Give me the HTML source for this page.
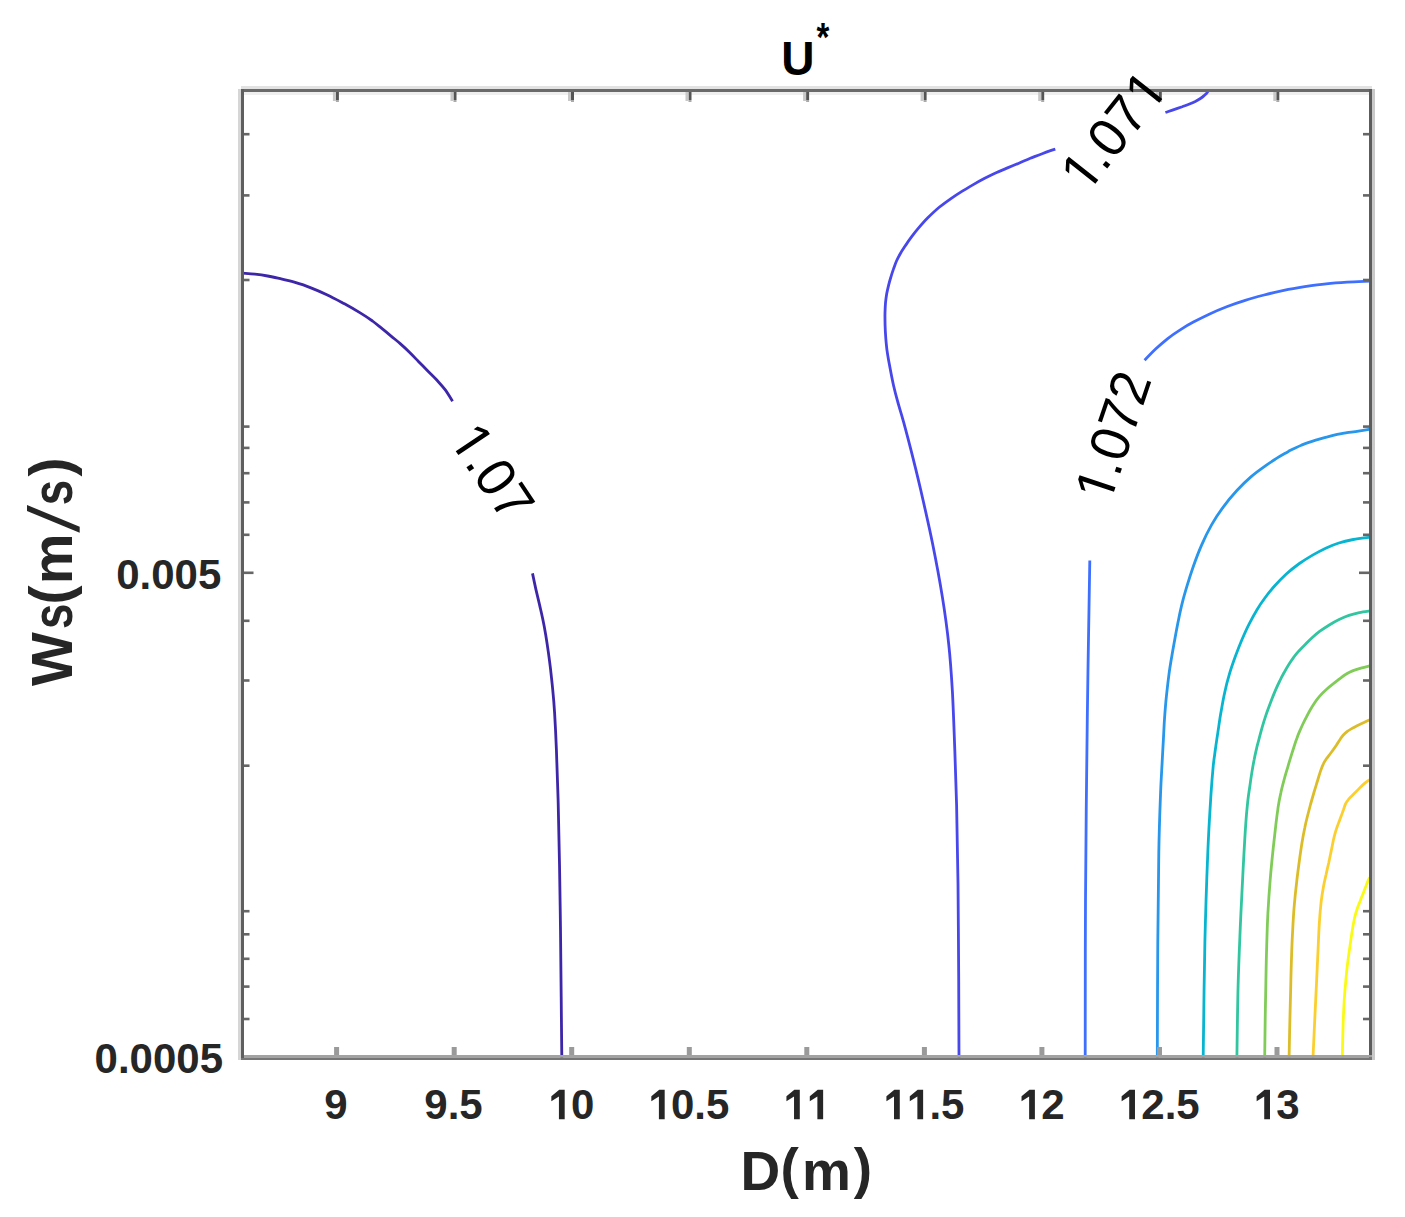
<!DOCTYPE html>
<html><head><meta charset="utf-8"><style>
html,body{margin:0;padding:0;background:#fff;overflow:hidden;}
svg{display:block;}
text{font-family:"Liberation Sans",sans-serif;}
</style></head><body>
<svg width="1405" height="1217" viewBox="0 0 1405 1217">
<rect width="1405" height="1217" fill="#fff"/>

<rect x="238" y="89" width="3" height="971" fill="#d6d6d6"/>
<rect x="241" y="86" width="1131" height="3" fill="#e2e2e2"/>
<rect x="244" y="92" width="1125" height="3" fill="#efefef"/>
<rect x="1372" y="89" width="3" height="971" fill="#c9c9c9"/>
<g fill="none" stroke-width="2.8" stroke-linecap="butt" stroke-linejoin="round">
<path d="M242.5,273.1 C244.6,273.3 250.7,273.7 254.9,274.2 C259.1,274.7 263.4,275.3 267.6,276.0 C271.8,276.8 276.0,277.6 280.4,278.7 C284.8,279.7 289.3,280.7 294.3,282.2 C299.3,283.7 304.8,285.4 310.3,287.6 C315.8,289.7 321.7,292.3 327.4,295.0 C333.1,297.7 339.0,300.9 344.5,303.8 C350.0,306.8 355.5,310.0 360.2,312.9 C364.9,315.7 368.8,318.4 372.5,321.0 C376.1,323.7 379.0,326.2 382.1,328.7 C385.2,331.2 388.1,333.6 391.1,336.1 C394.1,338.6 397.2,341.0 400.2,343.6 C403.2,346.2 406.2,349.0 409.2,352.0 C412.2,354.9 415.2,358.1 418.2,361.2 C421.2,364.3 424.3,367.4 427.3,370.5 C430.3,373.5 433.4,376.3 436.3,379.5 C439.2,382.7 442.2,385.8 444.9,389.4 C447.6,393.0 451.3,399.2 452.6,401.2" stroke="#3e26a8"/>
<path d="M532.5,573.4 C533.1,576.1 534.8,584.3 535.9,589.4 C537.1,594.5 538.3,599.2 539.4,604.1 C540.5,609.0 541.7,613.7 542.7,618.8 C543.8,623.9 544.8,629.3 545.7,634.8 C546.6,640.3 547.5,646.1 548.3,651.9 C549.1,657.7 549.9,663.5 550.6,669.7 C551.3,676.0 552.0,682.1 552.7,689.3 C553.4,696.4 554.0,702.7 554.6,712.8 C555.2,722.8 555.8,734.4 556.4,749.5 C557.0,764.6 557.7,784.1 558.2,803.2 C558.7,822.4 559.1,843.0 559.5,864.1 C559.9,885.2 560.2,907.9 560.5,930.0 C560.7,952.1 561.0,975.6 561.2,996.9 C561.4,1018.1 561.7,1047.4 561.8,1057.5" stroke="#3e26a8"/>
<path d="M959.0,1057.5 C958.9,1044.2 958.8,1006.6 958.7,977.5 C958.5,948.4 958.3,911.9 958.0,883.1 C957.6,854.4 957.1,828.1 956.6,805.0 C956.0,781.9 955.3,763.6 954.6,744.6 C953.9,725.7 953.3,707.9 952.4,691.3 C951.4,674.6 950.5,660.6 948.8,644.9 C947.2,629.2 945.1,614.0 942.4,597.1 C939.7,580.3 936.2,561.5 932.6,543.7 C929.0,525.9 924.5,506.4 920.8,490.3 C917.1,474.3 913.3,459.1 910.3,447.4 C907.3,435.7 905.1,427.6 903.0,419.8 C900.8,412.1 899.0,406.6 897.5,400.9 C895.9,395.2 894.7,390.4 893.6,385.7 C892.5,381.0 891.7,376.8 890.9,372.6 C890.1,368.3 889.3,364.1 888.6,360.2 C887.9,356.4 887.4,353.2 886.9,349.6 C886.5,345.9 886.1,342.5 885.8,338.5 C885.5,334.5 885.2,329.8 885.1,325.5 C885.0,321.2 884.9,316.8 885.0,313.0 C885.1,309.2 885.2,306.0 885.5,302.8 C885.8,299.5 886.2,296.7 886.7,293.7 C887.3,290.7 888.0,287.8 888.7,284.9 C889.4,281.9 890.3,279.0 891.1,276.3 C891.9,273.6 892.8,271.0 893.7,268.4 C894.6,265.9 895.5,263.3 896.6,260.8 C897.7,258.4 899.0,255.9 900.4,253.5 C901.8,251.0 903.4,248.7 905.1,246.1 C906.8,243.6 908.4,241.1 910.6,238.2 C912.7,235.4 914.9,232.3 917.8,228.9 C920.7,225.5 924.2,221.4 927.8,217.8 C931.4,214.3 935.4,210.5 939.2,207.3 C943.0,204.2 946.8,201.5 950.6,198.8 C954.4,196.2 958.1,193.8 961.9,191.4 C965.7,189.0 969.5,186.8 973.3,184.6 C977.1,182.4 980.9,180.3 984.7,178.3 C988.5,176.4 992.3,174.5 996.1,172.8 C999.9,171.0 1003.7,169.5 1007.5,167.9 C1011.3,166.3 1015.1,164.8 1018.9,163.2 C1022.7,161.6 1026.4,159.9 1030.3,158.3 C1034.2,156.8 1038.1,155.2 1042.2,153.7 C1046.4,152.2 1053.1,149.9 1055.3,149.2" stroke="#4747eb"/>
<path d="M1165.4,112.5 C1166.8,112.0 1171.1,110.6 1173.9,109.6 C1176.7,108.7 1179.6,107.7 1182.2,106.8 C1184.8,105.8 1187.3,104.9 1189.5,104.0 C1191.7,103.1 1193.5,102.3 1195.3,101.4 C1197.0,100.5 1198.6,99.6 1200.0,98.7 C1201.4,97.8 1202.7,96.9 1203.8,95.9 C1204.9,95.0 1205.8,94.1 1206.7,93.2 C1207.5,92.2 1208.4,90.9 1208.7,90.5" stroke="#4747eb"/>
<path d="M1144.6,360.3 C1146.4,358.4 1151.8,352.7 1155.6,349.1 C1159.4,345.5 1163.4,342.0 1167.4,338.8 C1171.5,335.6 1175.4,332.9 1179.8,330.1 C1184.1,327.3 1188.4,324.7 1193.4,322.1 C1198.4,319.4 1204.0,316.5 1209.7,313.9 C1215.3,311.3 1221.4,308.8 1227.3,306.5 C1233.3,304.3 1239.1,302.3 1245.2,300.4 C1251.3,298.4 1257.7,296.7 1264.1,295.0 C1270.5,293.3 1277.1,291.7 1283.8,290.3 C1290.6,288.9 1297.7,287.7 1304.7,286.6 C1311.8,285.6 1319.0,284.6 1326.1,283.9 C1333.2,283.1 1339.7,282.6 1347.1,282.1 C1354.5,281.6 1366.6,281.3 1370.5,281.1" stroke="#3e6fff"/>
<path d="M1089.8,560.5 C1089.4,586.7 1088.0,661.3 1087.3,717.9 C1086.6,774.5 1085.8,843.4 1085.5,900.0 C1085.2,956.6 1085.2,1031.2 1085.2,1057.5" stroke="#3e6fff"/>
<path d="M1370.5,429.2 C1368.5,429.5 1362.4,430.5 1358.5,431.1 C1354.5,431.7 1350.5,432.2 1347.0,432.7 C1343.5,433.3 1340.4,433.8 1337.2,434.4 C1333.9,435.1 1330.7,436.0 1327.5,436.9 C1324.2,437.7 1320.8,438.7 1317.7,439.6 C1314.5,440.6 1311.5,441.5 1308.8,442.4 C1306.1,443.3 1303.6,444.3 1301.3,445.2 C1299.1,446.1 1297.2,447.0 1295.3,447.9 C1293.4,448.8 1291.6,449.7 1289.9,450.6 C1288.1,451.6 1286.8,452.3 1284.7,453.5 C1282.6,454.7 1280.5,455.9 1277.3,457.9 C1274.1,460.0 1269.8,462.6 1265.4,465.8 C1261.0,468.9 1255.9,472.5 1251.2,476.6 C1246.4,480.7 1241.6,485.4 1236.9,490.5 C1232.3,495.5 1227.6,501.1 1223.4,506.8 C1219.2,512.5 1215.3,518.3 1211.7,524.6 C1208.1,530.9 1204.7,537.9 1201.7,544.9 C1198.6,551.9 1195.7,559.7 1193.3,566.5 C1190.9,573.3 1188.9,579.7 1187.1,585.7 C1185.3,591.7 1183.8,596.7 1182.4,602.4 C1180.9,608.1 1179.7,613.9 1178.5,619.9 C1177.2,625.8 1176.1,632.3 1175.0,638.2 C1173.9,644.2 1172.9,649.7 1171.9,655.7 C1170.9,661.6 1169.9,667.3 1169.0,674.1 C1168.1,680.9 1167.2,688.9 1166.4,696.3 C1165.6,703.8 1165.0,711.8 1164.5,719.0 C1164.0,726.1 1163.8,732.7 1163.4,739.4 C1163.0,746.1 1162.8,750.6 1162.3,759.4 C1161.9,768.2 1161.2,776.8 1160.6,792.3 C1160.0,807.8 1159.2,827.6 1158.8,852.5 C1158.3,877.4 1158.0,907.7 1157.8,941.9 C1157.5,976.0 1157.4,1038.2 1157.3,1057.5" stroke="#2796eb"/>
<path d="M1370.5,537.2 C1367.6,537.6 1358.6,538.6 1353.3,539.5 C1348.1,540.5 1343.5,541.5 1338.9,543.0 C1334.3,544.4 1330.1,546.2 1325.7,548.2 C1321.3,550.3 1317.0,552.6 1312.6,555.1 C1308.2,557.7 1303.8,560.4 1299.4,563.5 C1295.0,566.7 1290.5,570.2 1286.3,574.0 C1282.1,577.9 1277.7,582.5 1274.1,586.5 C1270.5,590.6 1267.5,594.4 1264.7,598.3 C1261.8,602.2 1259.6,605.4 1257.0,609.7 C1254.5,613.9 1251.8,618.8 1249.2,623.8 C1246.7,628.7 1244.3,634.1 1242.0,639.5 C1239.7,645.0 1237.5,650.6 1235.4,656.3 C1233.3,662.1 1231.2,667.9 1229.4,674.1 C1227.5,680.3 1225.9,686.7 1224.5,693.5 C1223.0,700.2 1221.8,707.7 1220.6,714.3 C1219.5,720.9 1218.7,727.0 1217.8,732.9 C1216.9,738.7 1216.1,743.9 1215.4,749.3 C1214.7,754.7 1214.1,757.7 1213.3,765.2 C1212.6,772.6 1212.0,779.4 1211.0,793.9 C1210.1,808.5 1208.8,827.8 1207.8,852.5 C1206.8,877.2 1205.7,907.7 1204.9,941.9 C1204.1,976.0 1203.5,1038.2 1203.2,1057.5" stroke="#08b5d0"/>
<path d="M1370.5,610.8 C1368.6,611.1 1362.9,611.9 1359.3,612.6 C1355.7,613.4 1352.3,614.2 1349.0,615.3 C1345.6,616.4 1342.4,617.9 1339.1,619.5 C1335.8,621.1 1332.5,623.0 1329.3,625.0 C1326.1,627.0 1322.8,629.1 1319.9,631.2 C1317.0,633.4 1314.3,635.7 1311.8,638.0 C1309.4,640.2 1307.2,642.5 1305.0,644.7 C1302.8,646.9 1300.7,649.0 1298.7,651.2 C1296.8,653.4 1295.0,655.5 1293.3,657.8 C1291.6,660.1 1290.1,662.4 1288.5,664.9 C1286.9,667.4 1285.5,670.0 1284.0,672.8 C1282.4,675.6 1280.9,678.5 1279.5,681.5 C1278.0,684.5 1276.6,687.6 1275.3,690.6 C1274.0,693.7 1272.8,696.6 1271.7,699.6 C1270.6,702.5 1269.5,705.4 1268.4,708.3 C1267.3,711.2 1266.3,714.1 1265.3,717.1 C1264.3,720.1 1263.4,723.1 1262.5,726.1 C1261.6,729.2 1260.8,732.3 1259.9,735.7 C1259.0,739.1 1258.0,742.7 1257.0,746.7 C1256.1,750.6 1255.0,755.1 1254.2,759.5 C1253.3,763.8 1252.5,768.5 1251.8,772.9 C1251.1,777.3 1250.5,781.3 1249.9,786.0 C1249.2,790.7 1248.5,794.6 1247.8,801.0 C1247.1,807.5 1246.4,813.7 1245.7,824.8 C1244.9,835.9 1244.1,850.9 1243.2,867.5 C1242.4,884.1 1241.3,904.7 1240.4,924.4 C1239.6,944.1 1238.7,963.4 1238.1,985.6 C1237.5,1007.8 1237.1,1045.5 1236.9,1057.5" stroke="#31c69f"/>
<path d="M1370.5,665.7 C1369.0,666.1 1364.7,667.1 1361.8,667.9 C1358.8,668.7 1355.7,669.6 1353.1,670.6 C1350.5,671.7 1348.1,672.8 1345.9,674.2 C1343.7,675.5 1342.0,677.0 1339.9,678.6 C1337.9,680.2 1335.8,681.9 1333.4,683.7 C1331.1,685.5 1328.4,687.6 1326.1,689.7 C1323.7,691.8 1321.4,694.1 1319.5,696.3 C1317.6,698.5 1316.0,700.6 1314.5,702.9 C1313.0,705.1 1311.7,707.3 1310.3,709.7 C1309.0,712.0 1307.7,714.5 1306.5,716.9 C1305.3,719.2 1304.0,721.7 1302.9,724.0 C1301.8,726.3 1300.8,728.6 1299.8,730.9 C1298.8,733.1 1297.9,735.4 1297.1,737.8 C1296.2,740.1 1295.4,742.4 1294.5,745.2 C1293.6,748.0 1292.7,750.9 1291.6,754.4 C1290.5,757.9 1289.2,762.1 1288.0,766.3 C1286.8,770.4 1285.4,775.0 1284.2,779.4 C1283.0,783.8 1281.8,788.1 1280.9,792.6 C1279.9,797.0 1279.1,801.0 1278.3,806.0 C1277.6,811.0 1276.9,815.8 1276.1,822.7 C1275.3,829.6 1274.3,838.0 1273.3,847.5 C1272.3,857.0 1271.1,868.6 1270.2,879.6 C1269.3,890.5 1268.5,902.1 1267.9,913.3 C1267.3,924.5 1267.0,935.2 1266.7,946.6 C1266.3,958.0 1266.1,969.5 1265.9,981.6 C1265.6,993.8 1265.4,1006.7 1265.2,1019.4 C1265.0,1032.0 1264.8,1051.1 1264.7,1057.5" stroke="#81cc59"/>
<path d="M1370.5,719.5 C1369.3,720.0 1365.6,721.7 1363.4,722.7 C1361.2,723.7 1359.1,724.7 1357.1,725.7 C1355.2,726.7 1353.4,727.6 1351.7,728.6 C1350.0,729.6 1348.5,730.5 1347.0,731.6 C1345.6,732.8 1344.3,734.0 1343.1,735.3 C1341.9,736.6 1341.0,738.1 1339.9,739.7 C1338.8,741.3 1337.8,743.0 1336.7,744.7 C1335.6,746.4 1334.4,748.1 1333.2,749.8 C1332.0,751.4 1330.8,752.9 1329.7,754.5 C1328.6,756.0 1327.4,757.3 1326.4,758.8 C1325.3,760.4 1324.3,761.7 1323.4,763.8 C1322.4,765.8 1321.5,768.2 1320.5,771.1 C1319.5,774.1 1318.4,777.9 1317.3,781.5 C1316.2,785.1 1314.9,789.2 1313.8,793.0 C1312.7,796.8 1311.6,800.7 1310.5,804.5 C1309.5,808.3 1308.5,812.1 1307.5,816.0 C1306.5,819.9 1305.6,823.5 1304.8,827.8 C1303.9,832.0 1303.1,836.2 1302.2,841.4 C1301.4,846.6 1300.5,852.4 1299.6,859.0 C1298.7,865.6 1297.7,873.1 1296.8,880.8 C1295.9,888.4 1295.0,896.8 1294.3,905.0 C1293.6,913.2 1293.1,921.7 1292.7,930.0 C1292.2,938.3 1291.9,946.0 1291.6,955.0 C1291.3,964.0 1291.0,973.0 1290.8,983.8 C1290.5,994.5 1290.2,1007.1 1289.9,1019.4 C1289.6,1031.7 1289.2,1051.1 1289.1,1057.5" stroke="#dcbd29"/>
<path d="M1370.5,779.0 C1369.6,779.7 1366.6,781.8 1364.9,783.2 C1363.2,784.6 1361.7,786.0 1360.2,787.4 C1358.8,788.9 1357.4,790.3 1356.0,791.8 C1354.5,793.2 1353.1,794.6 1351.8,795.9 C1350.5,797.2 1349.2,798.4 1348.2,799.8 C1347.1,801.1 1346.3,802.3 1345.5,803.9 C1344.8,805.6 1344.3,807.4 1343.6,809.4 C1342.8,811.4 1342.1,813.7 1341.2,816.0 C1340.4,818.3 1339.4,820.6 1338.5,823.1 C1337.6,825.5 1336.7,828.0 1335.8,830.9 C1334.9,833.8 1334.1,837.0 1333.3,840.5 C1332.6,843.9 1331.9,847.7 1331.1,851.5 C1330.3,855.3 1329.5,859.2 1328.7,863.0 C1327.8,866.8 1326.9,870.6 1326.1,874.5 C1325.2,878.4 1324.3,881.9 1323.5,886.4 C1322.7,890.9 1321.9,895.4 1321.2,901.4 C1320.5,907.4 1319.9,914.3 1319.4,922.2 C1318.9,930.1 1318.5,939.2 1318.1,948.7 C1317.6,958.2 1317.2,968.2 1316.7,979.1 C1316.2,990.1 1315.6,1001.3 1315.0,1014.4 C1314.4,1027.4 1313.3,1050.3 1313.0,1057.5" stroke="#fccf30"/>
<path d="M1370.5,876.5 C1370.1,877.1 1369.1,878.5 1368.3,880.1 C1367.6,881.7 1366.8,883.8 1366.0,886.0 C1365.1,888.1 1364.2,890.6 1363.3,893.1 C1362.3,895.5 1361.4,897.9 1360.4,900.4 C1359.4,903.0 1358.3,905.5 1357.3,908.5 C1356.3,911.4 1355.3,914.5 1354.5,918.2 C1353.6,922.0 1353.0,926.3 1352.2,931.0 C1351.4,935.8 1350.7,941.2 1349.9,946.6 C1349.1,952.0 1348.3,957.6 1347.6,963.3 C1346.9,969.0 1346.3,974.6 1345.8,980.8 C1345.2,987.0 1344.7,993.0 1344.2,1000.5 C1343.8,1007.9 1343.4,1015.8 1343.1,1025.3 C1342.8,1034.8 1342.4,1052.1 1342.3,1057.5" stroke="#f9fb15"/>
</g>
<rect x="241" y="89" width="1131" height="3" fill="#6a6a6a"/>
<rect x="1369" y="89" width="3" height="971" fill="#5c5c5c"/>
<rect x="241" y="1055" width="1131" height="2.5" fill="#a2a2a2"/>
<rect x="241" y="1057.5" width="1131" height="2.5" fill="#767676"/>
<rect x="241" y="89" width="3" height="969" fill="#5f5f5f"/>
<rect x="335.9" y="92" width="3" height="8" fill="#555"/>
<rect x="335.9" y="100" width="3" height="2" fill="#aaa"/>
<rect x="332.9" y="92" width="3" height="9" fill="#c8c8c8"/>
<rect x="334.1" y="1047" width="5" height="8" fill="#9a9a9a"/>
<rect x="453.5" y="92" width="3" height="8" fill="#555"/>
<rect x="453.5" y="100" width="3" height="2" fill="#aaa"/>
<rect x="450.5" y="92" width="3" height="9" fill="#c8c8c8"/>
<rect x="451.7" y="1047" width="5" height="8" fill="#9a9a9a"/>
<rect x="571.0" y="92" width="3" height="8" fill="#555"/>
<rect x="571.0" y="100" width="3" height="2" fill="#aaa"/>
<rect x="568.0" y="92" width="3" height="9" fill="#c8c8c8"/>
<rect x="569.2" y="1047" width="5" height="8" fill="#9a9a9a"/>
<rect x="688.5" y="92" width="3" height="8" fill="#555"/>
<rect x="688.5" y="100" width="3" height="2" fill="#aaa"/>
<rect x="685.5" y="92" width="3" height="9" fill="#c8c8c8"/>
<rect x="686.8" y="1047" width="5" height="8" fill="#9a9a9a"/>
<rect x="806.1" y="92" width="3" height="8" fill="#555"/>
<rect x="806.1" y="100" width="3" height="2" fill="#aaa"/>
<rect x="803.1" y="92" width="3" height="9" fill="#c8c8c8"/>
<rect x="804.3" y="1047" width="5" height="8" fill="#9a9a9a"/>
<rect x="923.6" y="92" width="3" height="8" fill="#555"/>
<rect x="923.6" y="100" width="3" height="2" fill="#aaa"/>
<rect x="920.6" y="92" width="3" height="9" fill="#c8c8c8"/>
<rect x="921.9" y="1047" width="5" height="8" fill="#9a9a9a"/>
<rect x="1041.2" y="92" width="3" height="8" fill="#555"/>
<rect x="1041.2" y="100" width="3" height="2" fill="#aaa"/>
<rect x="1038.2" y="92" width="3" height="9" fill="#c8c8c8"/>
<rect x="1039.4" y="1047" width="5" height="8" fill="#9a9a9a"/>
<rect x="1158.8" y="92" width="3" height="8" fill="#555"/>
<rect x="1158.8" y="100" width="3" height="2" fill="#aaa"/>
<rect x="1155.8" y="92" width="3" height="9" fill="#c8c8c8"/>
<rect x="1157.0" y="1047" width="5" height="8" fill="#9a9a9a"/>
<rect x="1276.3" y="92" width="3" height="8" fill="#555"/>
<rect x="1276.3" y="100" width="3" height="2" fill="#aaa"/>
<rect x="1273.3" y="92" width="3" height="9" fill="#c8c8c8"/>
<rect x="1274.5" y="1047" width="5" height="8" fill="#9a9a9a"/>
<rect x="244" y="1017.7" width="5.5" height="2.6" fill="#666"/>
<rect x="1363" y="1017.7" width="6" height="2.6" fill="#666"/>
<rect x="244" y="985.3" width="5.5" height="2.6" fill="#666"/>
<rect x="1363" y="985.3" width="6" height="2.6" fill="#666"/>
<rect x="244" y="957.5" width="5.5" height="2.6" fill="#666"/>
<rect x="1363" y="957.5" width="6" height="2.6" fill="#666"/>
<rect x="244" y="933.0" width="5.5" height="2.6" fill="#666"/>
<rect x="1363" y="933.0" width="6" height="2.6" fill="#666"/>
<rect x="244" y="909.9" width="5.5" height="2.6" fill="#666"/>
<rect x="1363" y="909.9" width="6" height="2.6" fill="#666"/>
<rect x="244" y="764.4" width="5.5" height="2.6" fill="#666"/>
<rect x="1363" y="764.4" width="6" height="2.6" fill="#666"/>
<rect x="244" y="679.2" width="5.5" height="2.6" fill="#666"/>
<rect x="1363" y="679.2" width="6" height="2.6" fill="#666"/>
<rect x="244" y="619.5" width="5.5" height="2.6" fill="#666"/>
<rect x="1363" y="619.5" width="6" height="2.6" fill="#666"/>
<rect x="244" y="571.5" width="9.5" height="2.6" fill="#666"/>
<rect x="1359" y="571.5" width="10" height="2.6" fill="#666"/>
<rect x="244" y="533.5" width="5.5" height="2.6" fill="#666"/>
<rect x="1363" y="533.5" width="6" height="2.6" fill="#666"/>
<rect x="244" y="501.1" width="5.5" height="2.6" fill="#666"/>
<rect x="1363" y="501.1" width="6" height="2.6" fill="#666"/>
<rect x="244" y="471.9" width="5.5" height="2.6" fill="#666"/>
<rect x="1363" y="471.9" width="6" height="2.6" fill="#666"/>
<rect x="244" y="446.6" width="5.5" height="2.6" fill="#666"/>
<rect x="1363" y="446.6" width="6" height="2.6" fill="#666"/>
<rect x="244" y="425.3" width="5.5" height="2.6" fill="#666"/>
<rect x="1363" y="425.3" width="6" height="2.6" fill="#666"/>
<rect x="244" y="278.7" width="5.5" height="2.6" fill="#666"/>
<rect x="1363" y="278.7" width="6" height="2.6" fill="#666"/>
<rect x="244" y="194.1" width="5.5" height="2.6" fill="#666"/>
<rect x="1363" y="194.1" width="6" height="2.6" fill="#666"/>
<rect x="244" y="132.9" width="5.5" height="2.6" fill="#666"/>
<rect x="1363" y="132.9" width="6" height="2.6" fill="#666"/>
<g transform="translate(492,471.2) rotate(56.2) translate(0,18.96) scale(1,1.03)"><polygon points="-36.83,-0.00 -36.83,-32.31 -45.13,-26.38 -45.13,-30.83 -36.43,-36.81 -32.10,-36.81 -32.10,-0.00" fill="#000"/><text x="-22.31 -7.44 22.31" y="0" font-size="53.5" fill="#000">.07</text></g>
<g transform="translate(1112.4,131.8) rotate(-51.7) translate(0,18.78) scale(1,1.03)"><polygon points="-51.22,-0.00 -51.22,-32.01 -59.45,-26.14 -59.45,-30.54 -50.83,-36.46 -46.53,-36.46 -46.53,-0.00" fill="#000"/><polygon points="51.92,-0.00 51.92,-32.01 43.69,-26.14 43.69,-30.54 52.31,-36.46 56.61,-36.46 56.61,-0.00" fill="#000"/><text x="-36.84 -22.10 7.37" y="0" font-size="53" fill="#000">.07</text></g>
<g transform="translate(1112.6,436.8) rotate(-71.3) translate(0,18.96) scale(1,1.03)"><polygon points="-51.70,-0.00 -51.70,-32.31 -60.01,-26.38 -60.01,-30.83 -51.31,-36.81 -46.97,-36.81 -46.97,-0.00" fill="#000"/><text x="-37.18 -22.31 7.44 37.18" y="0" font-size="53.5" fill="#000">.072</text></g>
<g transform="translate(335.9,1119.2) scale(1,1.02)"><text x="-11.68" y="0" font-size="42" font-weight="bold" fill="#262626">9</text></g>
<g transform="translate(453.5,1119.2) scale(1,1.02)"><text x="-29.19 -5.84 5.84" y="0" font-size="42" font-weight="bold" fill="#262626">9.5</text></g>
<g transform="translate(571.0,1119.2) scale(1,1.02)"><polygon points="-12.07,-0.00 -12.07,-22.25 -19.66,-17.64 -19.66,-22.56 -11.77,-28.90 -6.31,-28.90 -6.31,-0.00" fill="#262626"/><text x="0.00" y="0" font-size="42" font-weight="bold" fill="#262626">0</text></g>
<g transform="translate(688.5,1119.2) scale(1,1.02)"><polygon points="-29.59,-0.00 -29.59,-22.25 -37.17,-17.64 -37.17,-22.56 -29.28,-28.90 -23.82,-28.90 -23.82,-0.00" fill="#262626"/><text x="-17.51 5.84 17.51" y="0" font-size="42" font-weight="bold" fill="#262626">0.5</text></g>
<g transform="translate(806.1,1119.2) scale(1,1.02)"><polygon points="-12.07,-0.00 -12.07,-22.25 -19.66,-17.64 -19.66,-22.56 -11.77,-28.90 -6.31,-28.90 -6.31,-0.00" fill="#262626"/><polygon points="11.28,-0.00 11.28,-22.25 3.69,-17.64 3.69,-22.56 11.59,-28.90 17.04,-28.90 17.04,-0.00" fill="#262626"/></g>
<g transform="translate(923.6,1119.2) scale(1,1.02)"><polygon points="-29.59,-0.00 -29.59,-22.25 -37.17,-17.64 -37.17,-22.56 -29.28,-28.90 -23.82,-28.90 -23.82,-0.00" fill="#262626"/><polygon points="-6.23,-0.00 -6.23,-22.25 -13.82,-17.64 -13.82,-22.56 -5.93,-28.90 -0.47,-28.90 -0.47,-0.00" fill="#262626"/><text x="5.84 17.51" y="0" font-size="42" font-weight="bold" fill="#262626">.5</text></g>
<g transform="translate(1041.2,1119.2) scale(1,1.02)"><polygon points="-12.07,-0.00 -12.07,-22.25 -19.66,-17.64 -19.66,-22.56 -11.77,-28.90 -6.31,-28.90 -6.31,-0.00" fill="#262626"/><text x="0.00" y="0" font-size="42" font-weight="bold" fill="#262626">2</text></g>
<g transform="translate(1158.8,1119.2) scale(1,1.02)"><polygon points="-29.59,-0.00 -29.59,-22.25 -37.17,-17.64 -37.17,-22.56 -29.28,-28.90 -23.82,-28.90 -23.82,-0.00" fill="#262626"/><text x="-17.51 5.84 17.51" y="0" font-size="42" font-weight="bold" fill="#262626">2.5</text></g>
<g transform="translate(1276.3,1119.2) scale(1,1.02)"><polygon points="-12.07,-0.00 -12.07,-22.25 -19.66,-17.64 -19.66,-22.56 -11.77,-28.90 -6.31,-28.90 -6.31,-0.00" fill="#262626"/><text x="0.00" y="0" font-size="42" font-weight="bold" fill="#262626">3</text></g>
<g transform="translate(221.3,589.2) scale(1,1.02)"><text x="-105.08 -81.73 -70.06 -46.70 -23.35" y="0" font-size="42" font-weight="bold" fill="#262626">0.005</text></g>
<g transform="translate(223,1072.8) scale(1,1.02)"><text x="-128.44 -105.08 -93.41 -70.06 -46.70 -23.35" y="0" font-size="42" font-weight="bold" fill="#262626">0.0005</text></g>
<text x="740.40" y="1189.60" font-size="55" font-weight="bold" fill="#262626">D</text>
<text x="780.50" y="1187.00" font-size="55" font-weight="bold" fill="#262626">(</text>
<text x="802.00" y="1189.60" font-size="55" font-weight="bold" fill="#262626">m</text>
<text x="853.70" y="1187.00" font-size="55" font-weight="bold" fill="#262626">)</text>
<g transform="translate(71.7,687) rotate(-90)"><text x="0.90" y="0" font-size="57" font-weight="bold" fill="#262626">W</text><text transform="translate(58.01,0) scale(0.8,1)" x="0" y="0" font-size="57" font-weight="bold" fill="#262626">s</text><text x="82.61" y="-1.30" font-size="57" font-weight="bold" fill="#262626">(</text><text x="102.70" y="0" font-size="57" font-weight="bold" fill="#262626">m</text><text transform="translate(181.76,0) scale(0.8,1)" x="0" y="0" font-size="57" font-weight="bold" fill="#262626">s</text><text x="210.46" y="-1.30" font-size="57" font-weight="bold" fill="#262626">)</text><polygon points="182.00,-44.70 176.00,-44.70 154.20,8.00 160.20,8.00" fill="#262626"/></g>
<text transform="translate(781.3,74.8) scale(0.95,1)" x="0" y="0" font-weight="bold" font-size="48.5" fill="#000">U</text>
<text transform="translate(816.6,51.4) scale(0.87,1.06)" x="0" y="0" font-weight="bold" font-size="38" fill="#000">*</text>
</svg></body></html>
